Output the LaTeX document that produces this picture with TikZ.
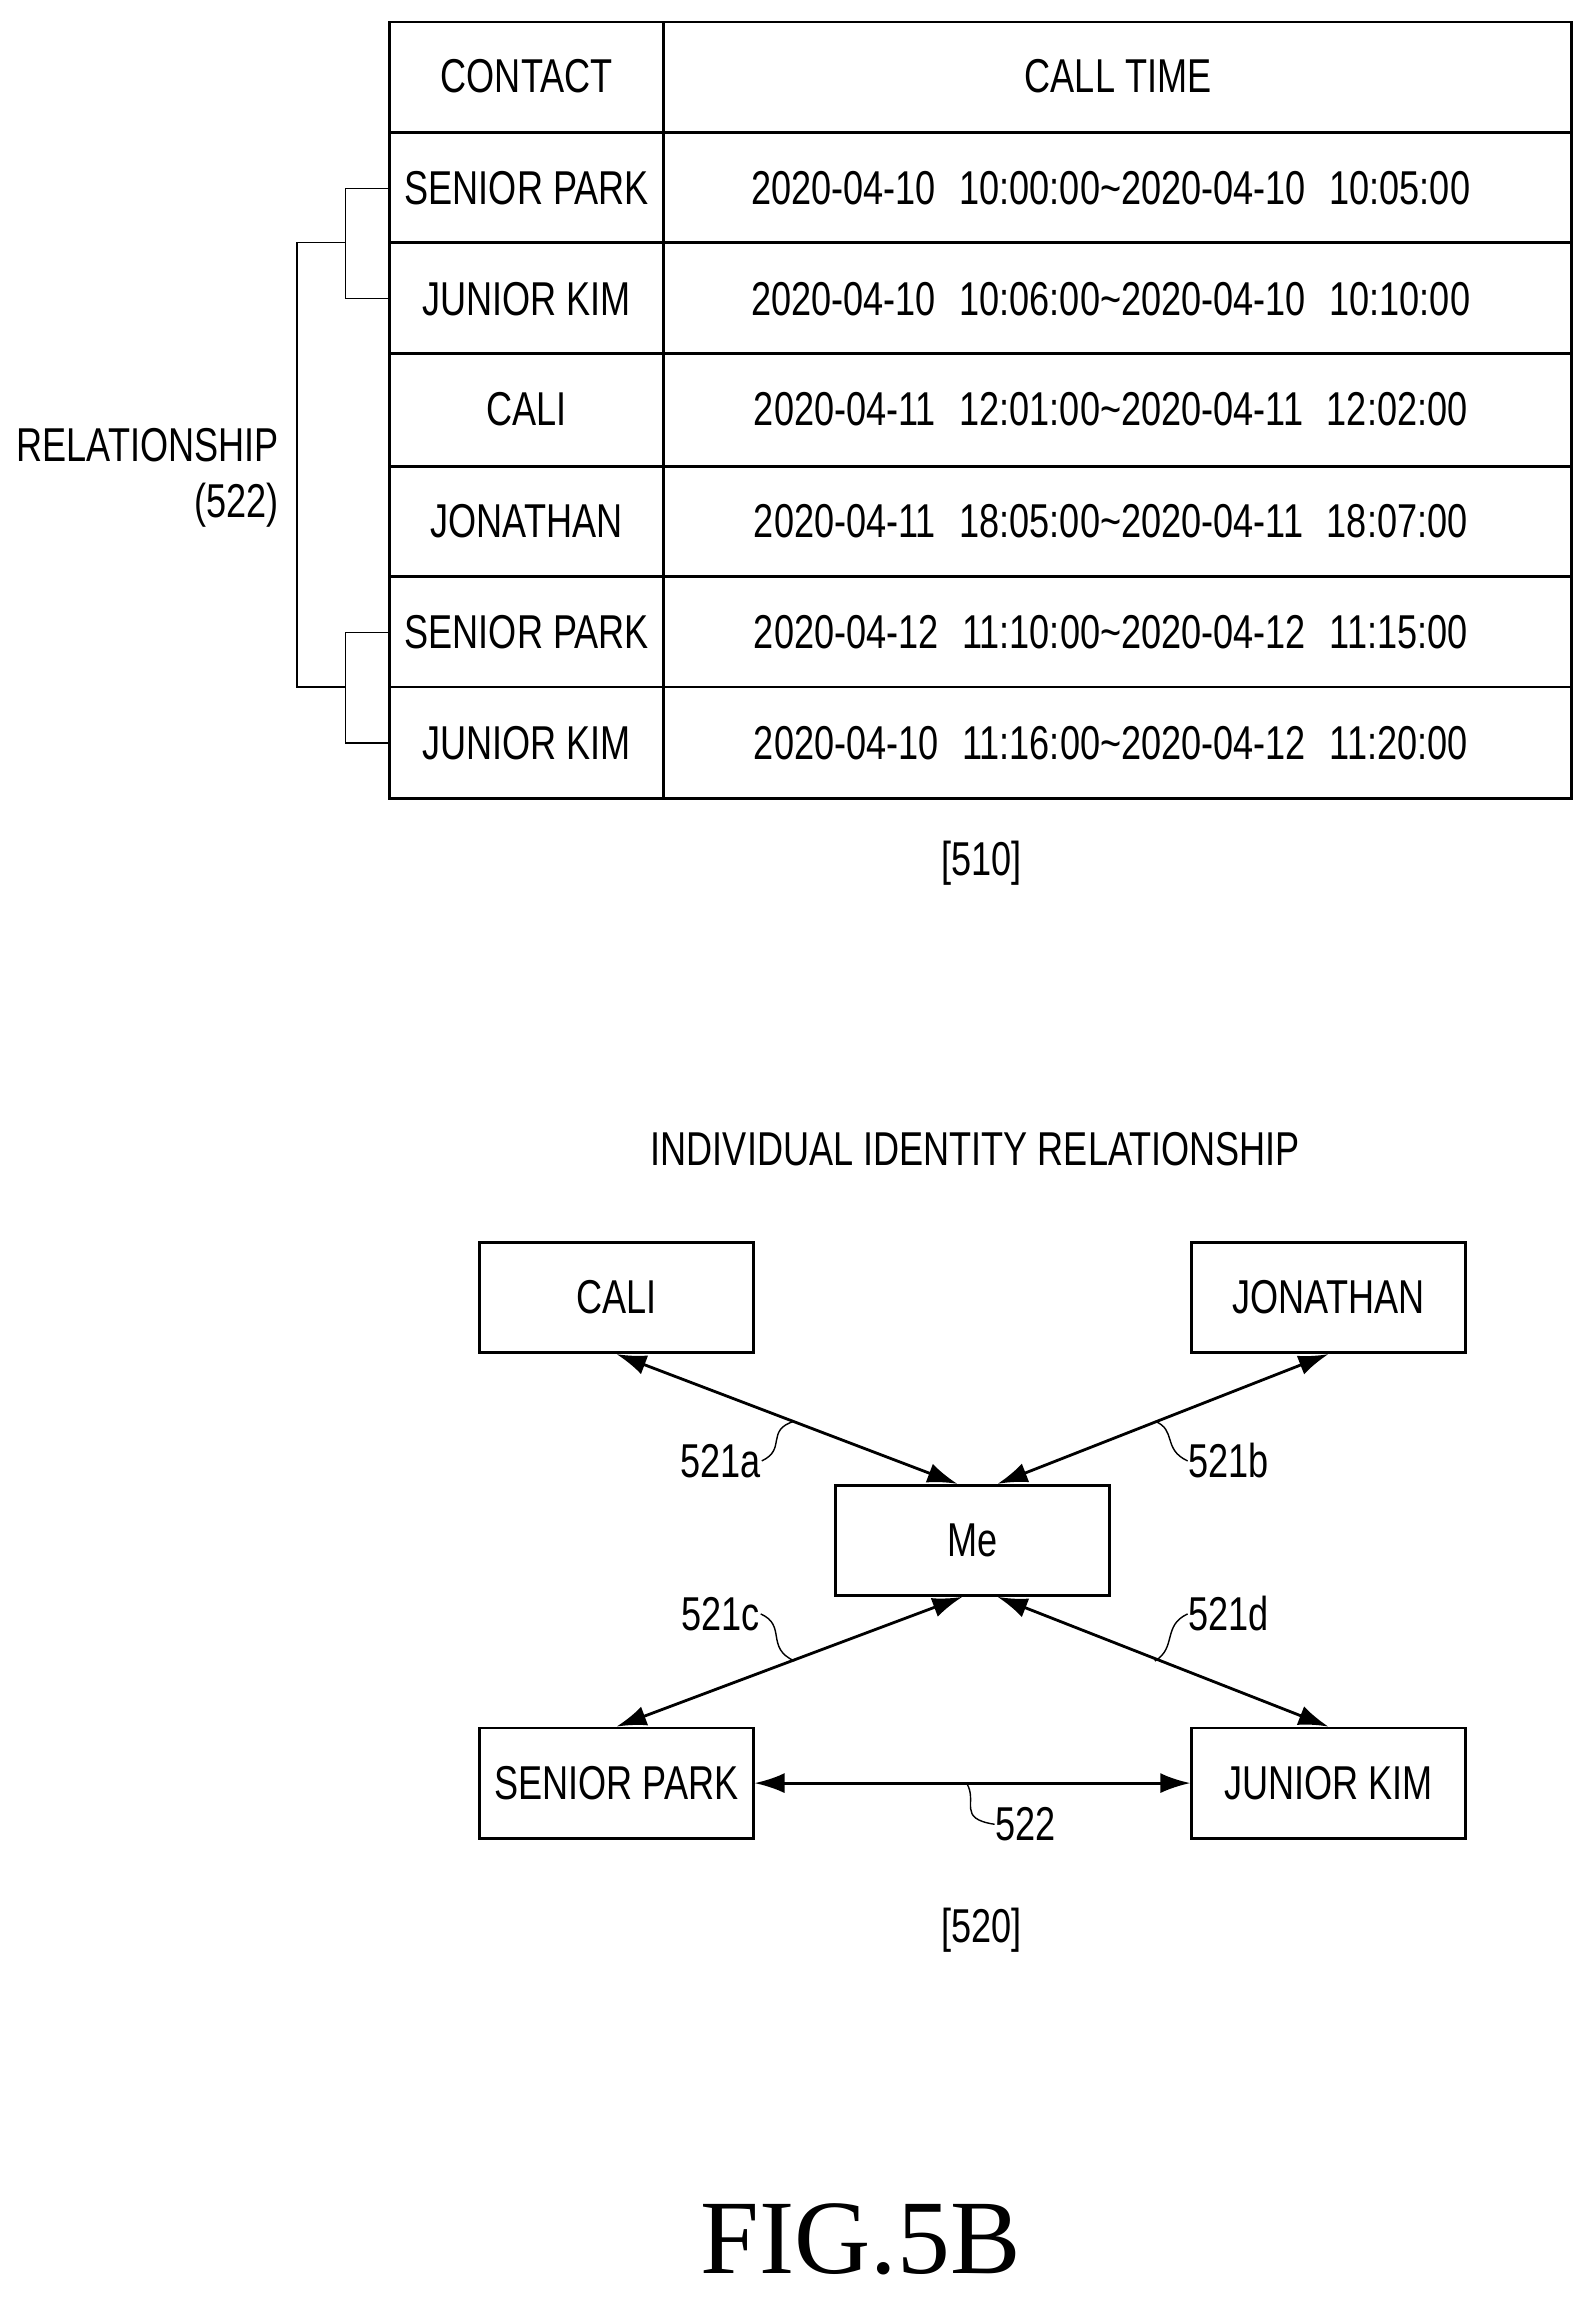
\documentclass[tikz,border=0pt]{standalone}
\usepackage{fontspec}
\setmainfont{Liberation Sans}[FakeStretch=0.76]
\newfontfamily\figfont{Liberation Serif}
\usetikzlibrary{arrows.meta, positioning}
\tikzset{
    box/.style={
           rectangle,
           draw=black, thick,
           minimum width=2.73cm,
           minimum height=1.1cm,
           inner sep=1pt,
           text centered,
           },
    link/.style={{Latex[length=3mm,width=2mm]}-{Latex[length=3mm,width=2mm]}, thick},
    lead/.style={thin},
    cell/.style={inner sep=0pt},
}
\begin{document}
\begin{tikzpicture}[x=0.0147cm, y=-0.0147cm, font=\fontsize{13.5}{16}\selectfont]
 \useasboundingbox (0,0) rectangle (1080,1562);

 % table [510]
 \draw[thick] (265,15) rectangle (1068,543);
 \draw[thick] (451,15) -- (451,543);
 \foreach \y in {90,165,240,317,392,467}
   \draw[thick] (265,\y) -- (1068,\y);

 \node[cell] (HEAD_C) at (358,52) {CONTACT};
 \node[cell] (HEAD_T) at (760,52) {CALL TIME};
 \foreach \n/\name/\time [count=\i] in {
   128/SENIOR PARK/2020-04-10\enspace10:00:00\textasciitilde2020-04-10\enspace10:05:00,
   203/JUNIOR KIM/2020-04-10\enspace10:06:00\textasciitilde2020-04-10\enspace10:10:00,
   278/CALI/2020-04-11\enspace12:01:00\textasciitilde2020-04-11\enspace12:02:00,
   354/JONATHAN/2020-04-11\enspace18:05:00\textasciitilde2020-04-11\enspace18:07:00,
   430/SENIOR PARK/2020-04-12\enspace11:10:00\textasciitilde2020-04-12\enspace11:15:00,
   505/JUNIOR KIM/2020-04-10\enspace11:16:00\textasciitilde2020-04-12\enspace11:20:00}
 {
   \node[cell] (ROW_\i) at (358,\n) {\name};
   \node[cell] (TIME_\i) at (755,\n) {\time};
 }

 % bracket
 \draw (265,128) -- (235,128) -- (235,203) -- (265,203);
 \draw (265,430) -- (235,430) -- (235,505) -- (265,505);
 \draw (235,165) -- (202,165) -- (202,467) -- (235,467);
 \node[cell, anchor=east, align=right] (REL) at (190,325)
 {%
  RELATIONSHIP\\(522)
 };

 \node[cell] (L510) at (667,587) {[510]};

 % graph [520]
 \node[cell] (TITLE) at (663,781) {INDIVIDUAL IDENTITY RELATIONSHIP};

 \node[box] (ME) at (661,1047) {Me};
 \node[box] (CALI) at (419,882) {CALI};
 \node[box] (JONATHAN) at (903,882) {JONATHAN};
 \node[box] (PARK) at (419,1212) {SENIOR PARK};
 \node[box] (KIM) at (903,1212) {JUNIOR KIM};

 \draw[link] (CALI.south) -- ([xshift=-0.15cm]ME.north);
 \draw[link] ([xshift=0.25cm]ME.north) -- (JONATHAN.south);
 \draw[link] ([xshift=-0.1cm]ME.south) -- (PARK.north);
 \draw[link] ([xshift=0.25cm]ME.south) -- (KIM.north);
 \draw[link] (PARK) -- (KIM);

 \node[cell] (L521A) at (490,993) {521a};
 \node[cell] (L521B) at (835,993) {521b};
 \node[cell] (L521C) at (490,1097) {521c};
 \node[cell] (L521D) at (835,1097) {521d};
 \node[cell] (L522) at (697,1240) {522};

 \draw[lead] (L521A.east) .. controls (535,985) and (520,972) .. (540,966);
 \draw[lead] (L521B.west) .. controls (790,985) and (800,972) .. (785,966);
 \draw[lead] (L521C.east) .. controls (535,1105) and (520,1120) .. (540,1129);
 \draw[lead] (L521D.west) .. controls (790,1105) and (800,1120) .. (785,1129);
 \draw[lead] (L522.west) .. controls (650,1236) and (665,1225) .. (657,1212);

 \node[cell] (L520) at (667,1312) {[520]};

 \node[cell, font=\figfont\fontsize{30}{34}\selectfont] (FIG) at (585,1522) {FIG.5B};
\end{tikzpicture}
\end{document}
